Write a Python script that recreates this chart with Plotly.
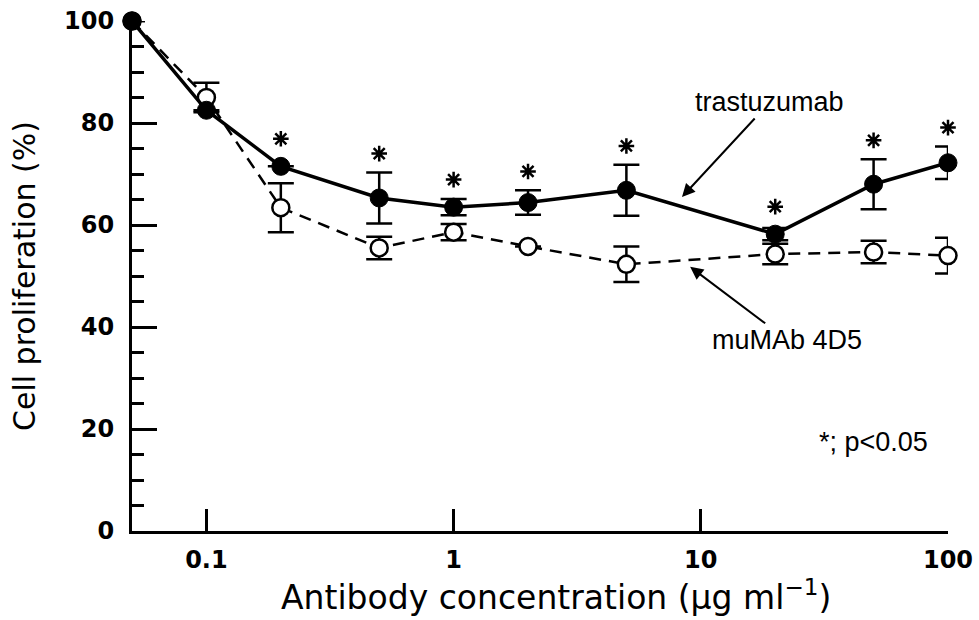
import math
import plotly.graph_objects as go

# Antibody concentration (ug/ml) and mean cell proliferation (% of control)
conc = [0.05, 0.1, 0.2, 0.5, 1, 2, 5, 20, 50, 100]
trastuzumab = [100, 82.5, 71.5, 65.3, 63.5, 64.4, 66.8, 58.2, 68.0, 72.2]
trastuzumab_err = [None, None, None, 5.0, 1.6, 2.4, 5.0, 1.2, 4.9, 3.2]
mumab_4d5 = [100, 85.0, 63.4, 55.5, 58.6, 55.8, 52.3, 54.3, 54.7, 54.0]
mumab_4d5_err = [None, 2.9, 4.8, 2.2, 1.6, None, 3.5, 2.0, 2.2, 3.5]
significant = [False, False, True, True, True, True, True, True, True, True]

x_tickvals = [0.1, 1, 10, 100]
x_ticktext = ["0.1", "1", "10", "100"]

# Asterisks sit just above the trastuzumab error bar (or marker)
star_x = [c for c, s in zip(conc, significant) if s]
star_y = [
    y + max(e or 0, 1.7) + 3.7
    for y, e, s in zip(trastuzumab, trastuzumab_err, significant) if s
]

fig = go.Figure()

fig.add_trace(go.Scatter(
    x=conc, y=mumab_4d5, mode="lines+markers", cliponaxis=False,
    line=dict(color="black", width=2.5, dash="12px,8px"),
    marker=dict(symbol="circle", size=17, color="white",
                line=dict(color="black", width=2.5)),
    error_y=dict(type="data", array=mumab_4d5_err, visible=True,
                 color="black", thickness=2.5, width=13),
    name="muMAb 4D5",
))

fig.add_trace(go.Scatter(
    x=conc, y=trastuzumab, mode="lines+markers", cliponaxis=False,
    line=dict(color="black", width=3.5),
    marker=dict(symbol="circle", size=18, color="black",
                line=dict(color="black", width=1)),
    error_y=dict(type="data", array=trastuzumab_err, visible=True,
                 color="black", thickness=2.5, width=13),
    name="trastuzumab",
))

fig.add_trace(go.Scatter(
    x=star_x, y=star_y, mode="markers", cliponaxis=False,
    marker=dict(symbol="asterisk-open", size=13, color="black",
                line=dict(color="black", width=2.5)),
    hoverinfo="skip", name="p<0.05",
))

label_font = dict(family="Liberation Sans, Arial, sans-serif", size=27, color="black")

annotations = [
    # Series labels: each arrow runs from its label toward the curve it names
    dict(xref="paper", yref="paper", x=0.674, y=0.655, text="trastuzumab",
         xanchor="center", yanchor="middle", font=label_font,
         showarrow=True, ax=88, ay=-95, arrowhead=2, arrowsize=1.3,
         arrowwidth=2, arrowcolor="black"),
    dict(xref="paper", yref="paper", x=0.684, y=0.518, text="muMAb 4D5",
         xanchor="center", yanchor="middle", font=label_font,
         showarrow=True, ax=97, ay=73, arrowhead=2, arrowsize=1.3,
         arrowwidth=2, arrowcolor="black"),
    dict(xref="paper", yref="paper", x=0.909, y=0.175, text="*; p<0.05",
         xanchor="center", yanchor="middle", showarrow=False, font=label_font),
    # x-axis title
    dict(xref="paper", yref="paper", x=0.52, y=-0.127,
         text="Antibody concentration (μg ml<sup>−1</sup>)",
         xanchor="center", yanchor="middle", showarrow=False,
         font=dict(family="DejaVu Sans, sans-serif", size=33, color="black")),
]

tick_font = dict(family="DejaVu Sans, sans-serif", size=24, color="black",
                 weight="bold")

fig.update_layout(
    width=979, height=620, autosize=False,
    margin=dict(l=132, r=31, t=21, b=89),
    paper_bgcolor="white", plot_bgcolor="white",
    showlegend=False,
    annotations=annotations,
    xaxis=dict(
        type="log", range=[math.log10(0.05), 2], automargin=False,
        tickvals=x_tickvals, ticktext=x_ticktext,
        ticks="inside", ticklen=22, tickwidth=2.5, tickcolor="black",
        showline=True, linewidth=3, linecolor="black",
        showgrid=False, zeroline=False,
        tickfont=tick_font, ticklabelstandoff=5,
    ),
    yaxis=dict(
        range=[0, 100], dtick=20, automargin=False,
        ticks="inside", ticklen=25, tickwidth=2.5, tickcolor="black",
        minor=dict(dtick=5, ticks="inside", ticklen=12, tickwidth=2.5,
                   tickcolor="black"),
        showline=True, linewidth=3, linecolor="black",
        showgrid=False, zeroline=False,
        tickfont=tick_font, ticklabelstandoff=10,
        title=dict(text="Cell proliferation (%)",
                   font=dict(family="DejaVu Sans, sans-serif", size=30,
                             color="black"),
                   standoff=20),
    ),
)

fig.write_html("out.html")
